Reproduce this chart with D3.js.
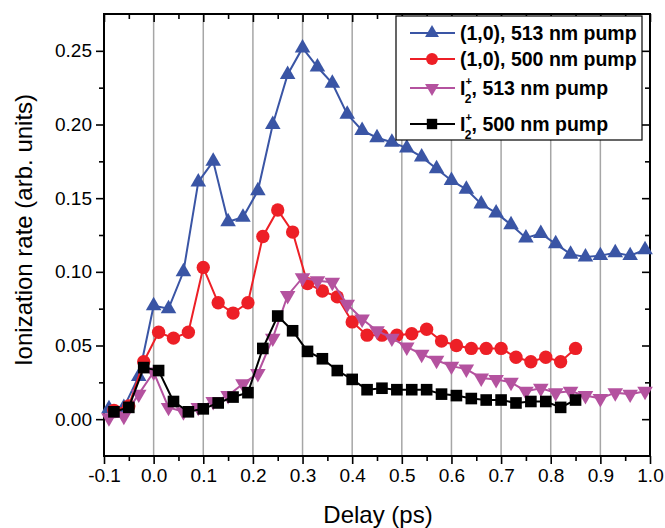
<!DOCTYPE html>
<html>
<head>
<meta charset="utf-8">
<script src="https://cdn.jsdelivr.net/npm/d3@7"></script>
<style>
  body { margin: 0; background: #fff; }
  svg { font-family: "Liberation Sans", Arial, sans-serif; }
</style>
</head>
<body>
<div id="chart"></div>
<script>
// delays (ps) for the 513 nm pump runs and for the 500 nm pump runs
var delay513 = [-0.09, -0.06, -0.03, 0.00, 0.03, 0.06, 0.09, 0.12, 0.15, 0.18, 0.21, 0.24, 0.27,
  0.30, 0.33, 0.36, 0.39, 0.42, 0.45, 0.48, 0.51, 0.54, 0.57, 0.60, 0.63, 0.66, 0.69, 0.72,
  0.75, 0.78, 0.81, 0.84, 0.87, 0.90, 0.93, 0.96, 0.99];
var delay500 = [-0.08, -0.05, -0.02, 0.01, 0.04, 0.07, 0.10, 0.13, 0.16, 0.19, 0.22, 0.25, 0.28,
  0.31, 0.34, 0.37, 0.40, 0.43, 0.46, 0.49, 0.52, 0.55, 0.58, 0.61, 0.64, 0.67, 0.70, 0.73,
  0.76, 0.79, 0.82, 0.85];

var ion10_513 = [0.007, 0.008, 0.029, 0.077, 0.075, 0.100, 0.161, 0.175, 0.134, 0.137, 0.155, 0.200, 0.234,
  0.252, 0.239, 0.228, 0.207, 0.196, 0.191, 0.188, 0.184, 0.178, 0.170, 0.162, 0.156, 0.146, 0.140, 0.132,
  0.123, 0.126, 0.119, 0.112, 0.110, 0.111, 0.113, 0.111, 0.115];
var ion10_500 = [0.006, 0.009, 0.039, 0.059, 0.055, 0.059, 0.103, 0.079, 0.072, 0.079, 0.124, 0.142, 0.127,
  0.092, 0.087, 0.083, 0.066, 0.057, 0.057, 0.057, 0.058, 0.061, 0.053, 0.050, 0.048, 0.048, 0.048, 0.042,
  0.039, 0.042, 0.039, 0.048];
var i2_513 = [0.001, 0.002, 0.017, 0.032, 0.008, 0.005, 0.008, 0.012, 0.016, 0.024, 0.031, 0.055, 0.084,
  0.096, 0.094, 0.093, 0.078, 0.068, 0.060, 0.055, 0.049, 0.044, 0.040, 0.036, 0.034, 0.028, 0.027, 0.025,
  0.019, 0.021, 0.018, 0.019, 0.016, 0.014, 0.018, 0.017, 0.019];
var i2_500 = [0.005, 0.008, 0.035, 0.033, 0.012, 0.005, 0.007, 0.011, 0.015, 0.018, 0.048, 0.070, 0.060,
  0.046, 0.041, 0.033, 0.027, 0.020, 0.021, 0.020, 0.020, 0.020, 0.017, 0.016, 0.014, 0.013, 0.013, 0.011,
  0.012, 0.012, 0.008, 0.013];

var xTicks = [-0.1, 0.0, 0.1, 0.2, 0.3, 0.4, 0.5, 0.6, 0.7, 0.8, 0.9, 1.0];
var xTickLabels = ["-0.1", "0.0", "0.1", "0.2", "0.3", "0.4", "0.5", "0.6", "0.7", "0.8", "0.9", "1.0"];
var yTicks = [0.00, 0.05, 0.10, 0.15, 0.20, 0.25];
var yTickLabels = ["0.00", "0.05", "0.10", "0.15", "0.20", "0.25"];

var series = [
  {name: "(1,0), 513 nm pump", x: delay513, y: ion10_513, color: "#3a55a5", marker: "up"},
  {name: "(1,0), 500 nm pump", x: delay500, y: ion10_500, color: "#ed1f26", marker: "circle"},
  {name: ", 513 nm pump", ion: true, x: delay513, y: i2_513, color: "#b4529f", marker: "down"},
  {name: ", 500 nm pump", ion: true, x: delay500, y: i2_500, color: "#000000", marker: "square"}
];

var width = 665, height = 528;
var m = {left: 104, right: 650, top: 14, bottom: 456};

var svg = d3.select("#chart").append("svg")
  .attr("width", width)
  .attr("height", height);

var x = d3.scaleLinear().domain([-0.1, 1.0]).range([m.left, m.right]);
var y = d3.scaleLinear().domain([-0.025, 0.275]).range([m.bottom, m.top]);

// vertical grid lines
svg.append("g")
  .selectAll("line")
  .data(xTicks.slice(1, -1))
  .enter()
  .append("line")
  .attr("x1", d => x(d)).attr("x2", d => x(d))
  .attr("y1", m.top).attr("y2", m.bottom)
  .attr("stroke", "#a6a6a6")
  .attr("stroke-width", 1.5);

// minor tick positions
var xMinor = xTicks.slice(0, -1).map(d => d + 0.05);
var yMinor = yTicks.map(d => d - 0.025).concat([0.275]).filter(d => d > -0.025 && d < 0.275);

function styleAxis(g) {
  g.select(".domain").remove();
  g.selectAll(".tick line").attr("stroke", "#000").attr("stroke-width", 1.6);
  g.selectAll("text").attr("fill", "#000").style("font-size", "19px");
}

// bottom axis
svg.append("g")
  .attr("transform", "translate(0," + m.bottom + ")")
  .call(d3.axisBottom(x).tickValues(xTicks).tickSize(8).tickPadding(5)
    .tickFormat((d, i) => xTickLabels[i]))
  .call(styleAxis);
svg.append("g")
  .attr("transform", "translate(0," + m.bottom + ")")
  .call(d3.axisBottom(x).tickValues(xMinor).tickSize(5).tickFormat(""))
  .call(styleAxis);

// top axis (ticks inward)
svg.append("g")
  .attr("transform", "translate(0," + m.top + ")")
  .call(d3.axisBottom(x).tickValues(xTicks).tickSize(8).tickFormat(""))
  .call(styleAxis);
svg.append("g")
  .attr("transform", "translate(0," + m.top + ")")
  .call(d3.axisBottom(x).tickValues(xMinor).tickSize(5).tickFormat(""))
  .call(styleAxis);

// left axis
svg.append("g")
  .attr("transform", "translate(" + m.left + ",0)")
  .call(d3.axisLeft(y).tickValues(yTicks).tickSize(8).tickPadding(4)
    .tickFormat((d, i) => yTickLabels[i]))
  .call(styleAxis);
svg.append("g")
  .attr("transform", "translate(" + m.left + ",0)")
  .call(d3.axisLeft(y).tickValues(yMinor).tickSize(5).tickFormat(""))
  .call(styleAxis);

// right axis (ticks inward)
svg.append("g")
  .attr("transform", "translate(" + m.right + ",0)")
  .call(d3.axisLeft(y).tickValues(yTicks).tickSize(8).tickFormat(""))
  .call(styleAxis);
svg.append("g")
  .attr("transform", "translate(" + m.right + ",0)")
  .call(d3.axisLeft(y).tickValues(yMinor).tickSize(5).tickFormat(""))
  .call(styleAxis);

// frame
svg.append("rect")
  .attr("x", m.left).attr("y", m.top)
  .attr("width", m.right - m.left).attr("height", m.bottom - m.top)
  .attr("fill", "none")
  .attr("stroke", "#000")
  .attr("stroke-width", 2);

function symbolPath(marker, scale) {
  var s = scale || 1;
  if (marker == "circle") return d3.symbol().type(d3.symbolCircle).size(140 * s)();
  if (marker == "square") return d3.symbol().type(d3.symbolSquare).size(135 * s)();
  return d3.symbol().type(d3.symbolTriangle).size(105 * s)();
}

var line = d3.line().x(d => x(d[0])).y(d => y(d[1]));

series.forEach(function (s) {
  var pts = s.x.map((d, i) => [d, s.y[i]]);
  var g = svg.append("g");
  g.append("path")
    .datum(pts)
    .attr("d", line)
    .attr("fill", "none")
    .attr("stroke", s.color)
    .attr("stroke-width", 2);
  g.selectAll("path.pt")
    .data(pts)
    .enter()
    .append("path")
    .attr("class", "pt")
    .attr("d", symbolPath(s.marker))
    .attr("transform", function (d) {
      var t = "translate(" + x(d[0]) + "," + y(d[1]) + ")";
      if (s.marker == "down") t += " rotate(180)";
      return t;
    })
    .attr("fill", s.color);
});

// legend
var lg = svg.append("g");
lg.append("rect")
  .attr("x", 396).attr("y", 16)
  .attr("width", 246).attr("height", 124)
  .attr("fill", "#fff")
  .attr("stroke", "#000")
  .attr("stroke-width", 1.2);

var rowY = [33, 59, 88, 124];
series.forEach(function (s, i) {
  var yy = rowY[i];
  lg.append("line")
    .attr("x1", 410).attr("x2", 455)
    .attr("y1", yy).attr("y2", yy)
    .attr("stroke", s.color)
    .attr("stroke-width", 2);
  lg.append("path")
    .attr("d", symbolPath(s.marker, 0.8))
    .attr("transform", "translate(432," + yy + ")" + (s.marker == "down" ? " rotate(180)" : ""))
    .attr("fill", s.color);
  var t = lg.append("text")
    .attr("x", 460)
    .attr("y", yy + 7)
    .style("font-size", "19.5px")
    .style("font-weight", "bold");
  if (s.ion) {
    t.append("tspan").text("I");
    t.append("tspan").text("+").style("font-size", "11px").attr("dy", -10);
    t.append("tspan").text("2").style("font-size", "12px").attr("dx", -7).attr("dy", 18);
    t.append("tspan").text(s.name).attr("dy", -8);
  } else {
    t.text(s.name);
  }
});

// axis titles
svg.append("text")
  .attr("x", 378)
  .attr("y", 523)
  .attr("text-anchor", "middle")
  .style("font-size", "24px")
  .text("Delay (ps)");

svg.append("text")
  .attr("transform", "translate(32,230) rotate(-90)")
  .attr("text-anchor", "middle")
  .style("font-size", "24px")
  .text("Ionization rate (arb. units)");
</script>
</body>
</html>
